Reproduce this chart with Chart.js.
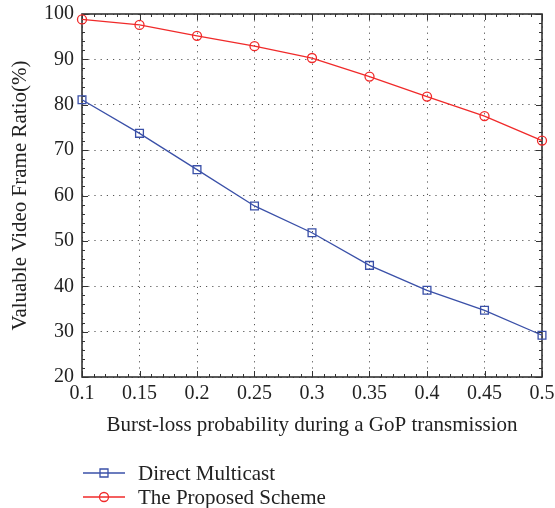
<!DOCTYPE html>
<html>
<head>
<meta charset="utf-8">
<script src="https://cdn.jsdelivr.net/npm/chart.js@4.4.1/dist/chart.umd.min.js"></script>
<style>
  html, body { margin: 0; padding: 0; background: #fff; }
</style>
</head>
<body>
<canvas id="grafico" width="555" height="508"></canvas>
<script>
// datos
const probabilidades = [0.1, 0.15, 0.2, 0.25, 0.3, 0.35, 0.4, 0.45, 0.5];
const directMulticast = [81.1, 73.7, 65.7, 57.7, 51.8, 44.6, 39.1, 34.7, 29.2];
const proposedScheme = [98.8, 97.6, 95.2, 92.9, 90.3, 86.2, 81.8, 77.5, 72.1];
const xTicks = [0.1, 0.15, 0.2, 0.25, 0.3, 0.35, 0.4, 0.45, 0.5];
const yTicks = [20, 30, 40, 50, 60, 70, 80, 90, 100];
const nombresSeries = ['Direct Multicast', 'The Proposed Scheme'];

const fuente = '"Liberation Serif", "DejaVu Serif", serif';
const azul = '#3a50a8';
const rojo = '#f02a2a';

// marco, ticks hacia dentro (mayores y menores)
const marco = {
  id: 'marco',
  beforeDatasetsDraw(chart) {
    const { ctx, chartArea: a, scales: { x, y } } = chart;
    ctx.save();
    ctx.strokeStyle = '#333';
    ctx.lineWidth = 1;
    ctx.beginPath();
    for (let i = 0; i <= 40; i++) {
      const v = 0.1 + i * 0.01;
      const px = Math.round(x.getPixelForValue(v)) + 0.5;
      const len = i % 5 === 0 ? 6 : 3;
      ctx.moveTo(px, a.bottom); ctx.lineTo(px, a.bottom - len);
      ctx.moveTo(px, a.top); ctx.lineTo(px, a.top + len);
    }
    for (let v = 20; v <= 100; v += 2) {
      const py = Math.round(y.getPixelForValue(v)) + 0.5;
      const len = v % 10 === 0 ? 6 : 3;
      ctx.moveTo(a.left, py); ctx.lineTo(a.left + len, py);
      ctx.moveTo(a.right, py); ctx.lineTo(a.right - len, py);
    }
    ctx.stroke();
    ctx.lineWidth = 1.6;
    ctx.strokeRect(a.left, a.top, a.right - a.left, a.bottom - a.top);
    ctx.restore();
  }
};

// leyenda debajo del grafico
const leyenda = {
  id: 'leyenda',
  afterDraw(chart) {
    const { ctx } = chart;
    const filas = [473, 497];
    ctx.save();
    chart.data.datasets.forEach((ds, i) => {
      const yy = filas[i];
      ctx.strokeStyle = ds.borderColor;
      ctx.lineWidth = 1.3;
      ctx.beginPath();
      ctx.moveTo(83, yy); ctx.lineTo(125, yy);
      ctx.stroke();
      ctx.beginPath();
      if (ds.pointStyle === 'rect') {
        ctx.rect(100, yy - 4, 8, 8);
      } else {
        ctx.arc(104, yy, 4.5, 0, Math.PI * 2);
      }
      ctx.stroke();
      ctx.fillStyle = '#222';
      ctx.font = '21px ' + fuente;
      ctx.textBaseline = 'middle';
      ctx.fillText(ds.label, 138, yy + 1);
    });
    ctx.restore();
  }
};

const grid = {
  color: '#555',
  lineWidth: 1,
  drawTicks: false
};

new Chart(document.getElementById('grafico'), {
  type: 'line',
  data: {
    datasets: [
      {
        label: nombresSeries[0],
        data: probabilidades.map((p, i) => ({ x: p, y: directMulticast[i] })),
        borderColor: azul,
        backgroundColor: 'rgba(0,0,0,0)',
        borderWidth: 1.3,
        pointStyle: 'rect',
        pointRadius: 5.5,
        pointBorderWidth: 1.3,
        tension: 0,
        clip: false
      },
      {
        label: nombresSeries[1],
        data: probabilidades.map((p, i) => ({ x: p, y: proposedScheme[i] })),
        borderColor: rojo,
        backgroundColor: 'rgba(0,0,0,0)',
        borderWidth: 1.3,
        pointStyle: 'circle',
        pointRadius: 4.5,
        pointBorderWidth: 1.3,
        tension: 0,
        clip: false
      }
    ]
  },
  options: {
    responsive: false,
    animation: false,
    events: [],
    layout: { padding: { top: 14, right: 13, bottom: 69, left: 0 } },
    plugins: {
      legend: { display: false },
      tooltip: { enabled: false }
    },
    scales: {
      x: {
        type: 'linear',
        min: 0.1,
        max: 0.5,
        afterBuildTicks: s => { s.ticks = xTicks.map(v => ({ value: v })); },
        afterFit: s => { s.height = 62; s.paddingLeft = 0; s.paddingRight = 0; },
        ticks: {
          color: '#222',
          font: { family: fuente, size: 20 },
          padding: 5,
          maxRotation: 0,
          callback: v => String(Math.round(v * 100) / 100)
        },
        grid: grid,
        border: { display: false, dash: [1.2, 5] },
        title: {
          display: true,
          text: 'Burst-loss probability during a GoP transmission',
          color: '#222',
          font: { family: fuente, size: 21 },
          padding: { top: 4, bottom: 1 }
        }
      },
      y: {
        min: 20,
        max: 100,
        afterBuildTicks: s => { s.ticks = yTicks.map(v => ({ value: v })); },
        afterFit: s => { s.width = 82; s.paddingTop = 0; s.paddingBottom = 0; },
        ticks: {
          color: '#222',
          font: { family: fuente, size: 20 },
          padding: 8
        },
        grid: grid,
        border: { display: false, dash: [1.2, 5] },
        title: {
          display: true,
          text: 'Valuable Video Frame Ratio(%)',
          color: '#222',
          font: { family: fuente, size: 21 },
          padding: { top: 8, bottom: 4 }
        }
      }
    }
  },
  plugins: [marco, leyenda]
});
</script>
</body>
</html>
